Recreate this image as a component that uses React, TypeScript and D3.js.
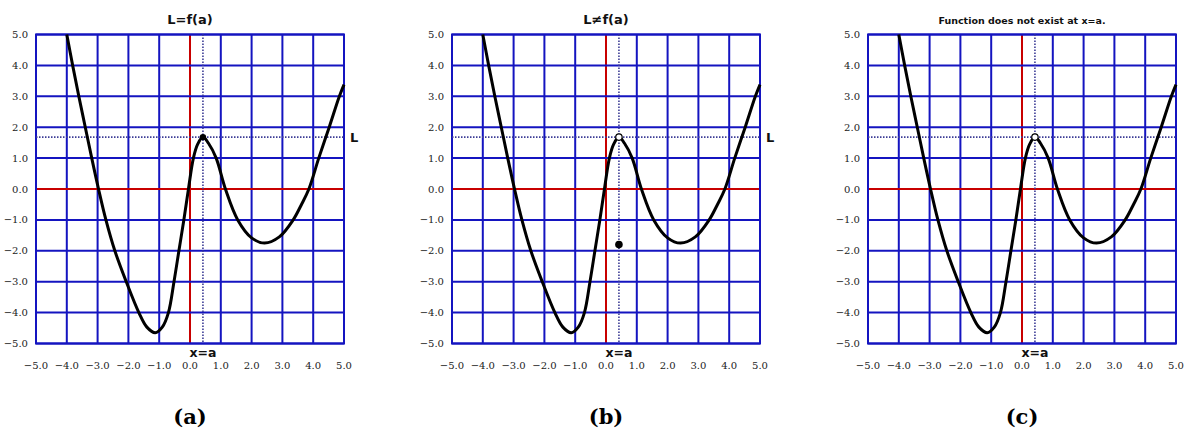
import React from "react";
import * as d3 from "d3";

// Curve sample points (x, y)
const curveX = [-4.0, -3.81, -3.61, -3.4, -3.19, -2.97, -2.73, -2.44, -2.07, -1.66, -1.4, -1.13, -0.9, -0.7, -0.52, -0.36, -0.2, -0.05, 0.11, 0.25, 0.42, 0.6, 0.85, 1.15, 1.55, 2.0, 2.42, 2.9, 3.35, 3.62, 3.86, 4.18, 4.52, 4.85, 5.0];
const curveY = [5.0, 4.0, 3.0, 2.0, 1.0, 0.0, -1.0, -2.0, -3.0, -4.0, -4.47, -4.65, -4.47, -4.0, -3.0, -2.0, -1.0, 0.0, 1.0, 1.45, 1.68, 1.48, 1.0, 0.0, -1.0, -1.58, -1.75, -1.55, -1.0, -0.5, 0.0, 1.0, 2.0, 3.0, 3.38];

const aValue = 0.42;
const limitL = 1.68;
const fOfA_b = -1.8;

const ticks = [-5, -4, -3, -2, -1, 0, 1, 2, 3, 4, 5];
const titles = ["L=f(a)", "L\u2260f(a)", "Function does not exist at x=a."];
const captions = ["(a)", "(b)", "(c)"];
const panelLefts = [36, 452, 868];

const W = 308;
const TOP = 34.5;
const BOTTOM = 343.5;

const BLUE = "#1414c0";
const RED = "#c80000";
const DOT = "#3c3c96";

const fmt = d3.format(".1f");

function Panel({ idx }: { idx: number }) {
  const left = panelLefts[idx];
  const x = d3.scaleLinear().domain([-5, 5]).range([left, left + W]);
  const y = d3.scaleLinear().domain([-5, 5]).range([BOTTOM, TOP]);
  const pts: [number, number][] = curveX.map((v, i) => [v, curveY[i]]);
  const line = d3
    .line<[number, number]>()
    .x((d) => x(d[0]))
    .y((d) => y(d[1]))
    .curve(d3.curveCatmullRom.alpha(0.5));
  const cx = (x(-5) + x(5)) / 2;
  return (
    <g>
      <text
        x={cx}
        y={24}
        textAnchor="middle"
        fontFamily="DejaVu Sans"
        fontWeight="bold"
        fontSize={idx === 2 ? 9.5 : 13}
        fill="#111"
      >
        {titles[idx]}
      </text>
      {ticks.map((t) => (
        <line key={"v" + t} x1={x(t)} x2={x(t)} y1={y(-5)} y2={y(5)} stroke={t === 0 ? RED : BLUE} strokeWidth={2} />
      ))}
      {ticks.map((t) => (
        <line key={"h" + t} y1={y(t)} y2={y(t)} x1={x(-5)} x2={x(5)} stroke={t === 0 ? RED : BLUE} strokeWidth={2} />
      ))}
      <rect x={x(-5)} y={y(5)} width={x(5) - x(-5)} height={y(-5) - y(5)} fill="none" stroke={BLUE} strokeWidth={2} />
      <line x1={x(aValue)} x2={x(aValue)} y1={y(5)} y2={y(-5)} stroke={DOT} strokeWidth={1.6} strokeDasharray="1.5,1.5" />
      <line x1={x(-5)} x2={x(5)} y1={y(limitL)} y2={y(limitL)} stroke={DOT} strokeWidth={1.6} strokeDasharray="1.5,1.5" />
      {ticks.map((t) => (
        <text key={"yl" + t} x={x(-5) - 8} y={y(t)} dy="0.35em" textAnchor="end" fontFamily="DejaVu Serif" fontSize={10} fill="#222">
          {fmt(t)}
        </text>
      ))}
      {ticks.map((t) => (
        <text key={"xl" + t} x={x(t)} y={369} textAnchor="middle" fontFamily="DejaVu Serif" fontSize={10} fill="#222">
          {fmt(t)}
        </text>
      ))}
      <path d={line(pts) || ""} fill="none" stroke="#000" strokeWidth={3} strokeLinejoin="round" />
      {idx === 0 && <circle cx={x(aValue)} cy={y(limitL)} r={3.2} fill="#000" />}
      {idx > 0 && <circle cx={x(aValue)} cy={y(limitL)} r={3.2} fill="#fff" stroke="#000" strokeWidth={1.2} />}
      {idx === 1 && <circle cx={x(aValue)} cy={y(fOfA_b)} r={3.8} fill="#000" />}
      <text x={x(aValue)} y={357} textAnchor="middle" fontFamily="DejaVu Sans" fontWeight="bold" fontSize={12.5} fill="#111">
        x=a
      </text>
      {idx < 2 && (
        <text x={x(5) + 6} y={y(limitL) + 5} fontFamily="DejaVu Sans" fontWeight="bold" fontSize={13} fill="#111">
          L
        </text>
      )}
      <text x={cx} y={424} textAnchor="middle" fontFamily="DejaVu Serif" fontWeight="bold" fontSize={21} fill="#000">
        {captions[idx]}
      </text>
    </g>
  );
}

export default function App() {
  return (
    <svg width={1185} height={431} style={{ position: "absolute", left: 0, top: 0, background: "#fff" }}>
      <rect width={1185} height={431} fill="#fff" />
      {[0, 1, 2].map((i) => (
        <Panel key={i} idx={i} />
      ))}
    </svg>
  );
}
